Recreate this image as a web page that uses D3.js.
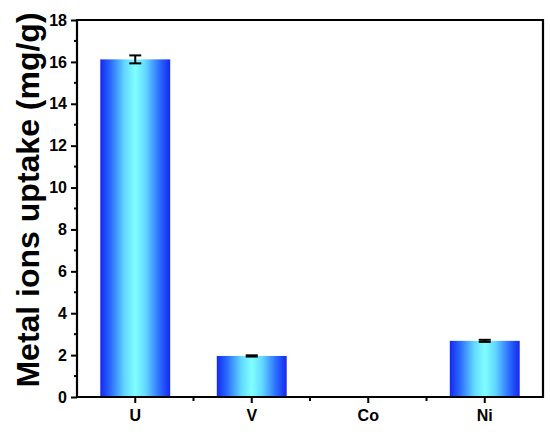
<!DOCTYPE html>
<html><head><meta charset="utf-8">
<script src="https://cdn.jsdelivr.net/npm/d3@7"></script>
<style>body{margin:0;background:#fff}</style>
</head><body><svg id="c" width="550" height="435"></svg>
<script>
const categories = ["U", "V", "Co", "Ni"];
const uptake = [16.12, 1.96, 0, 2.68];
const errors = [0.19, 0.03, 0, 0.05];
const yTicks = [0, 2, 4, 6, 8, 10, 12, 14, 16, 18];

const svg = d3.select("#c");
const m = {l: 77, r: 543, t: 20, b: 397};
const x = d3.scaleBand().domain(categories).range([m.l, m.r]).paddingInner(0.4).paddingOuter(0.2);
const xc = d => x(d) + x.bandwidth() / 2;
const y = d3.scaleLinear().domain([0, 18]).range([m.b, m.t]);

const defs = svg.append("defs");
const g = defs.append("linearGradient").attr("id", "bg").attr("x1", "0%").attr("x2", "100%").attr("y1", "0%").attr("y2", "0%");
[[0, "#1428f0"], [0.15, "#2b6cff"], [0.35, "#62d8ff"], [0.5, "#80ffff"], [0.65, "#62d8ff"], [0.85, "#2b6cff"], [1, "#1428f0"]]
  .forEach(([o, c]) => g.append("stop").attr("offset", o).attr("stop-color", c));

svg.selectAll("rect.bar").data(categories).enter().append("rect")
  .attr("class", "bar")
  .attr("x", d => x(d)).attr("width", x.bandwidth())
  .attr("y", (d, i) => y(uptake[i])).attr("height", (d, i) => y(0) - y(uptake[i]))
  .attr("fill", "url(#bg)");

// error bars
const eb = svg.append("g").attr("stroke", "#000").attr("stroke-width", 2);
categories.forEach((c, i) => {
  if (uptake[i] <= 0) return;
  const cx = xc(c), hi = y(uptake[i] + errors[i]), lo = y(uptake[i] - errors[i]);
  eb.append("line").attr("x1", cx).attr("x2", cx).attr("y1", hi).attr("y2", lo);
  eb.append("line").attr("x1", cx - 6).attr("x2", cx + 6).attr("y1", hi).attr("y2", hi);
  eb.append("line").attr("x1", cx - 6).attr("x2", cx + 6).attr("y1", lo).attr("y2", lo);
});

const font = "Liberation Sans, Arial, sans-serif";
// y axis
const ya = svg.append("g").attr("transform", `translate(${m.l},0)`)
  .call(d3.axisLeft(y).tickValues(yTicks).tickSize(6).tickPadding(4).tickFormat(d3.format("d")));
ya.select(".domain").remove();
ya.selectAll("line").attr("stroke-width", 2);
ya.selectAll("text").attr("font-family", font).attr("font-weight", "bold").attr("font-size", 16).attr("fill", "#000");
const yMinor = yTicks.slice(0, -1).map(v => v + 1);
svg.append("g").selectAll("line").data(yMinor).enter().append("line")
  .attr("x1", m.l - 3).attr("x2", m.l).attr("y1", d => y(d)).attr("y2", d => y(d))
  .attr("stroke", "#000").attr("stroke-width", 2);

// x axis
const xa = svg.append("g").attr("transform", `translate(0,${m.b})`)
  .call(d3.axisBottom(x).tickSize(6).tickPadding(7));
xa.select(".domain").remove();
xa.selectAll("line").attr("stroke-width", 2);
xa.selectAll("text").attr("font-family", font).attr("font-weight", "bold").attr("font-size", 16).attr("fill", "#000");
svg.append("g").selectAll("line").data(categories.slice(0, -1)).enter().append("line")
  .attr("x1", d => xc(d) + x.step() / 2).attr("x2", d => xc(d) + x.step() / 2)
  .attr("y1", m.b).attr("y2", m.b + 4)
  .attr("stroke", "#000").attr("stroke-width", 2);

// frame
svg.append("path")
  .attr("d", `M${m.l},${m.b}H${m.r}V${m.t}H${m.l}Z`)
  .attr("fill", "none").attr("stroke", "#000").attr("stroke-width", 2.2);

// y title
svg.append("text")
  .attr("transform", `translate(39,200) rotate(-90)`)
  .attr("text-anchor", "middle")
  .attr("font-family", font).attr("font-weight", "bold").attr("font-size", 32)
  .text("Metal ions uptake (mg/g)");
</script></body></html>
